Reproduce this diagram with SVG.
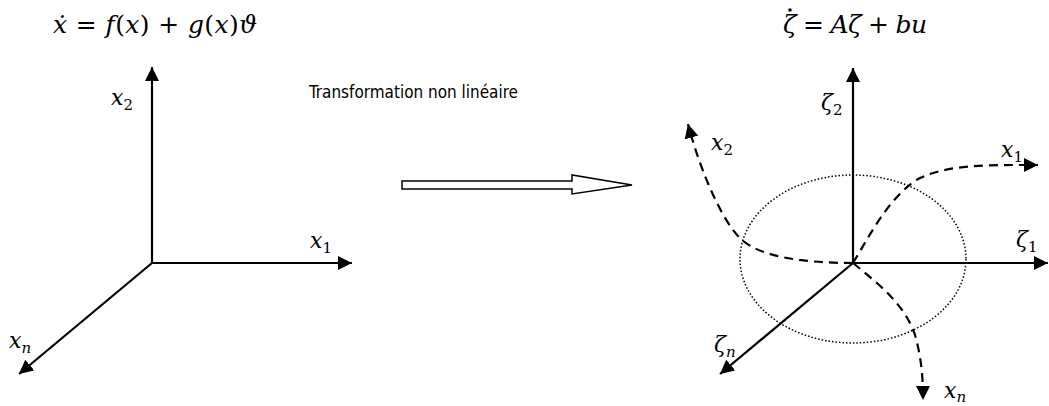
<svg xmlns="http://www.w3.org/2000/svg" width="1049" height="406" viewBox="0 0 1049 406">
<style>
.ax{stroke:#000;stroke-width:2.2;fill:none}
.dash{stroke:#000;stroke-width:2.2;fill:none;stroke-dasharray:9,6}
.m{font-family:"DejaVu Serif","Liberation Serif",serif;font-style:italic;font-size:22px;fill:#000}
.s{font-style:normal;font-size:15px}
.si{font-size:15px}
.eq{font-family:"DejaVu Serif","Liberation Serif",serif;font-style:italic;font-size:25px;fill:#000}
.n{font-style:normal}
.t{font-family:"DejaVu Sans Condensed",Lato,"Liberation Sans",sans-serif;font-size:17.5px;fill:#000}
</style>
<defs>
<marker id="ah" markerUnits="userSpaceOnUse" markerWidth="16" markerHeight="16" refX="14" refY="7" orient="auto" viewBox="0 0 16 14">
<path d="M0,0 L14,7 L0,14 Z" fill="#000"/>
</marker>
</defs>
<g id="eq-left"><text class="eq" x="53" y="33" textLength="204" lengthAdjust="spacing">ẋ <tspan class="n">=</tspan> f<tspan class="n">(</tspan>x<tspan class="n">) + </tspan>g<tspan class="n">(</tspan>x<tspan class="n">)</tspan>ϑ</text></g>
<g id="eq-right"><text class="eq" x="783" y="33" textLength="144" lengthAdjust="spacing">ζ <tspan class="n">=</tspan> Aζ <tspan class="n">+</tspan> bu</text><circle cx="790" cy="10" r="1.8" fill="#000"/></g>
<g id="label-transform"><text class="t" x="309" y="98" textLength="209" lengthAdjust="spacingAndGlyphs">Transformation non linéaire</text></g>
<g id="big-arrow"><path d="M402,181 L572,181 L572,175 L632,185 L572,194 L572,189 L402,189 Z" fill="#fff" stroke="#000" stroke-width="1.5"/></g>
<g id="connectors">
<line class="ax" x1="152" y1="263" x2="152" y2="67" marker-end="url(#ah)"/>
<line class="ax" x1="151" y1="263" x2="352" y2="263" marker-end="url(#ah)"/>
<line class="ax" x1="152" y1="263" x2="19" y2="374" marker-end="url(#ah)"/>
<line class="ax" x1="853" y1="264" x2="853" y2="68" marker-end="url(#ah)"/>
<line class="ax" x1="852" y1="263" x2="1048" y2="263" marker-end="url(#ah)"/>
<line class="ax" x1="853" y1="263" x2="720" y2="374" marker-end="url(#ah)"/>
<ellipse cx="853" cy="259" rx="113" ry="84" fill="none" stroke="#000" stroke-width="1.5" stroke-dasharray="1.5,2"/>
<path class="dash" d="M853,263 C800,263 760,256 742,240 C722,222 700,170 688,124" marker-end="url(#ah)"/>
<path class="dash" d="M853,263 C870,235 890,195 920,178 C950,164 990,165 1038,165" marker-end="url(#ah)"/>
<path class="dash" d="M853,263 C880,285 905,305 915,335 C922,360 923,380 923,400" marker-end="url(#ah)"/>
</g>
<g id="left-labels">
<text class="m" x="111" y="105">x<tspan class="s" dy="5">2</tspan></text>
<text class="m" x="310" y="248">x<tspan class="s" dy="5">1</tspan></text>
<text class="m" x="9" y="348">x<tspan class="si" dy="5">n</tspan></text>
</g>
<g id="right-labels">
<text class="m" x="821" y="110">ζ<tspan class="s" dy="5">2</tspan></text>
<text class="m" x="711" y="150">x<tspan class="s" dy="5">2</tspan></text>
<text class="m" x="1001" y="157">x<tspan class="s" dy="5">1</tspan></text>
<text class="m" x="1016" y="247">ζ<tspan class="s" dy="5">1</tspan></text>
<text class="m" x="714" y="352">ζ<tspan class="si" dy="5">n</tspan></text>
<text class="m" x="944" y="398">x<tspan class="si" dy="4">n</tspan></text>
</g>
</svg>
